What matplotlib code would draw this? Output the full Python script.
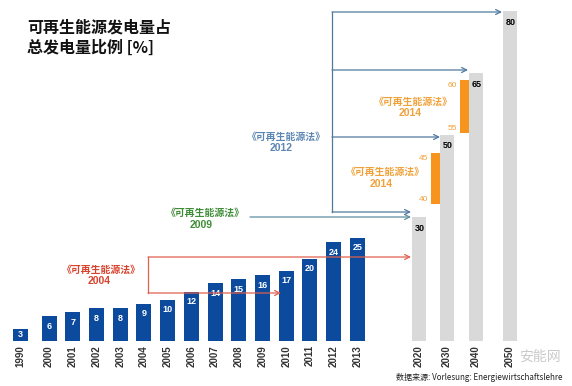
import matplotlib
matplotlib.use('Agg')
import matplotlib.pyplot as plt

# ---------------- data ----------------
years_hist = ['1990', '2000', '2001', '2002', '2003', '2004', '2005', '2006',
              '2007', '2008', '2009', '2010', '2011', '2012', '2013']
share_hist = [3, 6, 7, 8, 8, 9, 10, 12, 14, 15, 16, 17, 20, 24, 25]

years_target = ['2020', '2030', '2040', '2050']
share_target = [30, 50, 65, 80]

# EEG 2014 corridors (labels) and their drawn extent
corridor_years = ['2030', '2040']
corridor_low_label = ['40', '55']
corridor_high_label = ['45', '60']
corridor_bottom = [33.3, 50.5]
corridor_top = [45.6, 63.3]

law_name = '《可再生能源法》'
law_years = ['2004', '2009', '2012', '2014']

title_lines = ['可再生能源发电量占', '总发电量比例 [%]']
source_text = '数据来源: Vorlesung: Energiewirtschaftslehre'

# ---------------- layout ----------------
W, H = 572, 386
BASE = 341.0      # baseline pixel row
PPU = 4.12        # pixels per percent


def Y(p):
    """pixel row -> data value"""
    return (BASE - p) / PPU


x_hist = [20] + [49 + 23.72 * i for i in range(len(years_hist) - 1)]
x_target = [419, 447, 476, 510]

BLUE = '#0c4a9e'
GRAY = '#d9d9d9'
ORANGE = '#f7941d'
ORANGE_T = '#f0a23a'
RED_T = '#d8432e'
RED_L = '#e0604e'
GREEN_T = '#3f8d38'
GREEN_L = '#5e8ea2'
BLUE_T = '#5d86b3'
BLUE_L = '#50799f'

CJK = ['Noto Sans CJK SC', 'DejaVu Sans']
NUM = ['Liberation Sans', 'DejaVu Sans']
NARROW = ['Liberation Sans Narrow', 'Liberation Sans', 'DejaVu Sans']

fig = plt.figure(figsize=(W / 100, H / 100), dpi=100)
ax = fig.add_axes([0, 0, 1, 1])
ax.set_xlim(0, W)
ax.set_ylim(-(H - BASE) / PPU, BASE / PPU)
ax.axis('off')

# bars
ax.bar(x_hist, share_hist, width=15, color=BLUE, zorder=2)
ax.bar(x_target, share_target, width=14, color=GRAY, zorder=2)

for x, v in zip(x_hist, share_hist):
    yl = v - 10 / PPU if v > 5 else v / 2
    ax.text(x, yl, str(v), color='white', fontsize=6.5, fontweight='bold',
            ha='center', va='center', family=NUM, zorder=3)
for x, v in zip(x_target, share_target):
    ax.text(x + 1, v - 11 / PPU, str(v), color='black', fontsize=6.5,
            fontweight='bold', ha='center', va='center', family=NUM, zorder=3)

# tick labels
for x, t in zip(x_hist + x_target, years_hist + years_target):
    ax.text(x, Y(345), t, rotation=90, ha='center', va='top', fontsize=7,
            fontweight='bold', color='#333333', family=NARROW)

# corridor bars
for yr, lo, hi, b, t in zip(corridor_years, corridor_low_label,
                            corridor_high_label, corridor_bottom, corridor_top):
    xc = x_target[years_target.index(yr)] - 7 - 4.5
    ax.bar(xc, t - b, bottom=b, width=9, color=ORANGE, zorder=2)
    ax.text(xc - 7, t - 5 / PPU, hi, color=ORANGE_T, fontsize=6,
            ha='right', va='center', family=NUM)
    ax.text(xc - 7, b + 4 / PPU, lo, color=ORANGE_T, fontsize=6,
            ha='right', va='center', family=NUM)

# arrows
def arrow(x0, x1, yp, color):
    ax.annotate('', xy=(x1, Y(yp)), xytext=(x0, Y(yp)),
                arrowprops=dict(arrowstyle='->', color=color, lw=0.9,
                                shrinkA=0, shrinkB=0, mutation_scale=9),
                zorder=4)

# 2004 law (red)
ax.plot([148, 148], [Y(257), Y(293)], color=RED_L, lw=0.9)
arrow(148, 411, 257, RED_L)
arrow(148, 281, 293, RED_L)
# 2009 law (green)
arrow(250, 411, 217, GREEN_L)
# 2012 law (blue)
ax.plot([332, 332], [Y(12), Y(212)], color=BLUE_L, lw=0.9)
arrow(332, 502, 12, BLUE_L)
arrow(332, 468, 70, BLUE_L)
arrow(332, 440, 137, BLUE_L)
arrow(332, 411, 212, BLUE_L)

# law labels
def law(xc, yp, xyr, ypy, year, color):
    ax.text(xc, Y(yp), law_name, color=color, fontsize=7.1, fontweight='bold',
            ha='center', va='center', family=CJK)
    ax.text(xyr, Y(ypy), year, color=color, fontsize=7.5, fontweight='bold',
            ha='center', va='center', family=NUM)

law(101, 270, 99, 281, law_years[0], RED_T)
law(205, 213, 201, 225, law_years[1], GREEN_T)
law(286, 137, 281, 148, law_years[2], BLUE_T)
law(413, 102, 410, 113, law_years[3], ORANGE_T)
law(385, 172, 381, 184, law_years[3], ORANGE_T)

# title
ax.text(27, Y(28), title_lines[0], fontsize=11.5, fontweight='heavy',
        ha='left', va='center', family=CJK, color='#111111')
ax.text(27, Y(48), title_lines[1], fontsize=11.5, fontweight='heavy',
        ha='left', va='center', family=CJK, color='#111111')

# source + watermark
ax.text(562, Y(378), source_text, fontsize=5.8, ha='right', va='center',
        family=CJK, color='#222222')
ax.text(540, Y(357), '安能网', fontsize=10, ha='center', va='center',
        family=CJK, color='#bdbdbd', alpha=0.8)

fig.savefig('out.png', dpi=100)
